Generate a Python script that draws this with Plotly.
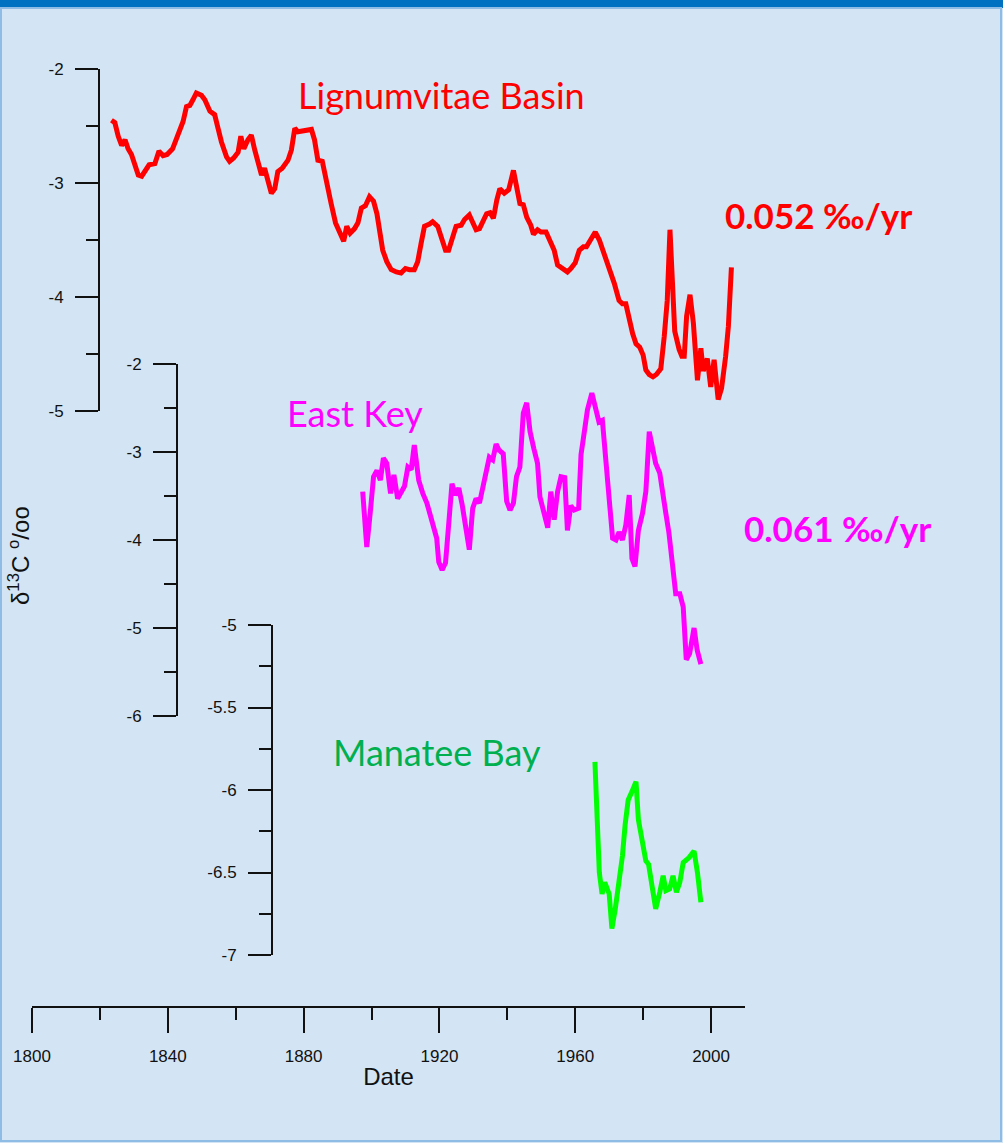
import plotly.graph_objects as go

# ---- data -------------------------------------------------------------
lb_year = [1823.4, 1824.4, 1825.4, 1826.4, 1827.4, 1828.3, 1829.3, 1830.3, 1831.3, 1832.3,
           1833.2, 1834.5, 1836.2, 1837.4, 1838.6, 1839.8, 1841.4, 1843.0, 1844.5, 1845.5,
           1846.5, 1847.4, 1848.4, 1849.9, 1850.9, 1852.4, 1853.8, 1854.8, 1855.8, 1857.3,
           1858.2, 1859.4, 1860.7, 1861.5, 1862.4, 1863.6, 1864.6, 1865.6, 1866.6, 1867.6,
           1868.5, 1869.5, 1870.5, 1871.5, 1872.4, 1873.7, 1875.4, 1876.4, 1877.4, 1878.3,
           1879.8, 1881.3, 1882.3, 1883.2, 1884.2, 1885.5, 1886.7, 1888.1, 1889.4, 1890.8,
           1891.8, 1892.7, 1893.7, 1895.0, 1896.0, 1897.0, 1898.2, 1899.4, 1900.6, 1901.6,
           1902.6, 1903.3, 1904.5, 1905.8, 1907.3, 1908.7, 1910.0, 1911.2, 1912.6, 1913.6,
           1914.6, 1915.6, 1917.1, 1918.0, 1919.5, 1920.5, 1921.8, 1922.7, 1923.9, 1924.9,
           1926.4, 1927.4, 1928.8, 1929.8, 1930.8, 1931.8, 1932.7, 1933.9, 1934.9, 1935.9,
           1936.9, 1937.8, 1939.1, 1940.4, 1941.8, 1943.0, 1943.7, 1944.7, 1945.7, 1946.9,
           1947.7, 1948.9, 1949.9, 1951.4, 1952.4, 1953.8, 1954.8, 1956.3, 1957.7, 1958.7,
           1960.0, 1961.2, 1962.4, 1963.3, 1964.6, 1965.9, 1967.1, 1968.5, 1970.0, 1971.5,
           1972.9, 1973.9, 1974.9, 1975.9, 1976.9, 1977.9, 1979.0, 1980.0, 1980.8, 1981.8,
           1982.9, 1983.9, 1985.2, 1986.2, 1987.1, 1987.9, 1988.6, 1989.3, 1990.6, 1991.4,
           1992.1, 1992.8, 1993.8, 1994.8, 1996.0, 1997.0, 1997.7, 1998.9, 1999.9, 2000.9,
           2002.1, 2003.1, 2004.3, 2005.1, 2006.0]
lb_d13c = [-2.45, -2.47, -2.59, -2.67, -2.62, -2.70, -2.75, -2.83, -2.93, -2.94,
           -2.90, -2.84, -2.83, -2.72, -2.76, -2.75, -2.70, -2.59, -2.46, -2.33,
           -2.32, -2.27, -2.21, -2.23, -2.27, -2.37, -2.40, -2.52, -2.64, -2.77,
           -2.81, -2.78, -2.73, -2.59, -2.70, -2.62, -2.58, -2.71, -2.81, -2.93,
           -2.87, -2.97, -3.09, -3.05, -2.90, -2.87, -2.80, -2.71, -2.52, -2.55,
           -2.54, -2.54, -2.53, -2.62, -2.80, -2.81, -3.00, -3.18, -3.35, -3.44,
           -3.51, -3.38, -3.44, -3.40, -3.35, -3.22, -3.20, -3.12, -3.16, -3.27,
           -3.44, -3.59, -3.69, -3.76, -3.78, -3.79, -3.75, -3.76, -3.76, -3.69,
           -3.53, -3.38, -3.36, -3.34, -3.38, -3.47, -3.59, -3.59, -3.49, -3.38,
           -3.37, -3.32, -3.28, -3.34, -3.41, -3.40, -3.34, -3.27, -3.26, -3.31,
           -3.15, -3.05, -3.09, -3.06, -2.89, -3.06, -3.18, -3.19, -3.30, -3.37,
           -3.45, -3.41, -3.43, -3.43, -3.49, -3.59, -3.72, -3.75, -3.78, -3.75,
           -3.70, -3.59, -3.56, -3.56, -3.49, -3.43, -3.50, -3.62, -3.73, -3.88,
           -4.03, -4.06, -4.06, -4.20, -4.32, -4.41, -4.44, -4.51, -4.64, -4.68,
           -4.70, -4.68, -4.63, -4.35, -4.03, -3.41, -3.94, -4.30, -4.46, -4.52,
           -4.52, -4.17, -3.98, -4.23, -4.73, -4.45, -4.65, -4.54, -4.79, -4.55,
           -4.90, -4.80, -4.52, -4.26, -3.74]

ek_year = [1897.4, 1898.6, 1899.6, 1900.6, 1901.6, 1902.6, 1903.5, 1904.5, 1905.6, 1906.6,
           1907.7, 1908.7, 1909.7, 1910.7, 1911.7, 1912.6, 1913.3, 1913.9, 1915.1, 1916.3,
           1917.4, 1918.5, 1919.2, 1919.8, 1920.8, 1921.8, 1922.7, 1923.7, 1924.7, 1925.7,
           1926.7, 1927.8, 1928.8, 1929.8, 1930.8, 1931.8, 1932.7, 1933.7, 1934.7, 1935.7,
           1936.7, 1937.6, 1938.8, 1939.8, 1940.8, 1941.8, 1942.7, 1943.7, 1944.7, 1945.7,
           1946.7, 1947.8, 1948.9, 1949.6, 1950.9, 1951.9, 1952.8, 1953.8, 1954.8, 1955.8,
           1956.9, 1957.7, 1958.7, 1959.7, 1961.0, 1961.7, 1962.6, 1963.6, 1964.9, 1966.0,
           1967.0, 1968.0, 1969.0, 1970.0, 1971.0, 1972.0, 1972.9, 1973.9, 1974.9, 1975.9,
           1976.7, 1977.6, 1978.6, 1979.8, 1980.8, 1981.8, 1982.7, 1983.7, 1984.9, 1985.7,
           1986.7, 1987.6, 1988.6, 1989.6, 1990.8, 1991.8, 1992.7, 1993.7, 1995.0, 1995.9,
           1997.0]
ek_d13c = [-3.45, -4.08, -3.70, -3.28, -3.21, -3.32, -3.07, -3.13, -3.47, -3.26,
           -3.53, -3.45, -3.39, -3.17, -3.20, -2.92, -3.09, -3.32, -3.47, -3.58,
           -3.73, -3.91, -3.98, -4.25, -4.34, -4.26, -3.81, -3.36, -3.49, -3.41,
           -3.60, -3.87, -4.11, -3.64, -3.53, -3.58, -3.43, -3.22, -3.06, -3.09,
           -2.91, -2.98, -3.02, -3.56, -3.66, -3.58, -3.28, -3.17, -2.56, -2.44,
           -2.77, -2.96, -3.13, -3.51, -3.74, -3.86, -3.45, -3.77, -3.45, -3.28,
           -3.29, -3.89, -3.61, -3.66, -3.64, -3.03, -2.79, -2.52, -2.33, -2.49,
           -2.66, -2.64, -3.13, -3.62, -3.98, -4.00, -3.91, -4.00, -3.83, -3.49,
           -4.21, -4.30, -3.89, -3.70, -3.45, -2.77, -2.94, -3.13, -3.24, -3.49,
           -3.70, -3.92, -4.26, -4.61, -4.61, -4.76, -5.36, -5.29, -5.00, -5.25,
           -5.41]

mb_year = [1965.8, 1966.6, 1967.1, 1967.9, 1968.7, 1970.0, 1970.8, 1971.8, 1972.7, 1973.9,
           1974.7, 1975.6, 1976.7, 1977.9, 1978.6, 1979.8, 1980.8, 1981.6, 1982.6, 1983.7,
           1984.9, 1985.9, 1986.7, 1987.8, 1988.8, 1989.8, 1990.8, 1991.8, 1993.5, 1995.0,
           1996.0, 1997.0]
mb_d13c = [-5.83, -6.30, -6.50, -6.63, -6.56, -6.63, -6.84, -6.72, -6.59, -6.40,
           -6.21, -6.06, -6.01, -5.95, -6.18, -6.32, -6.43, -6.45, -6.59, -6.72,
           -6.62, -6.52, -6.61, -6.60, -6.52, -6.62, -6.56, -6.44, -6.41, -6.37,
           -6.50, -6.68]

site_names = ["Lignumvitae Basin", "East Key", "Manatee Bay"]
trend_labels = ["0.052 \u2030/yr", "0.061 \u2030/yr"]

# tick values and the labels printed at them (plain hyphen minus signs)
x_ticks = [1800, 1840, 1880, 1920, 1960, 2000]
lb_ticks = [-2, -3, -4, -5]
lb_tick_text = ["-2", "-3", "-4", "-5"]
ek_ticks = [-2, -3, -4, -5, -6]
ek_tick_text = ["-2", "-3", "-4", "-5", "-6"]
mb_ticks = [-5, -5.5, -6, -6.5, -7]
mb_tick_text = ["-5", "-5.5", "-6", "-6.5", "-7"]

# ---- page geometry (pixels) -------------------------------------------
W, H = 1003, 1143
L, R, T, B = 32, 745, 69, 1007          # plot area edges


def fx(px):
    return (px - L) / (R - L)


def fy(py):
    return (B - py) / (B - T)


INK = "#111111"
AXIS_FONT = dict(family="Liberation Sans, Arial, sans-serif", size=17, color=INK)
LABEL_FONT = "Lato, Calibri, sans-serif"
RED, MAGENTA, GREEN, GREEN_TXT = "#ff0000", "#ff00ff", "#00ff00", "#00b050"
LINE_W = 5

fig = go.Figure()
fig.add_trace(go.Scatter(x=lb_year, y=lb_d13c, mode="lines", yaxis="y",
                         line=dict(color=RED, width=LINE_W), name=site_names[0]))
fig.add_trace(go.Scatter(x=ek_year, y=ek_d13c, mode="lines", yaxis="y2",
                         line=dict(color=MAGENTA, width=LINE_W), name=site_names[1]))
fig.add_trace(go.Scatter(x=mb_year, y=mb_d13c, mode="lines", yaxis="y3",
                         line=dict(color=GREEN, width=LINE_W), name=site_names[2]))


def y_axis(domain_px, rng, vals, text, minor_step, pos_px):
    return dict(
        domain=[fy(domain_px[1]), fy(domain_px[0])], range=rng,
        anchor="free", position=fx(pos_px),
        showline=True, linecolor=INK, linewidth=2,
        tickmode="array", tickvals=vals, ticktext=text,
        ticks="outside", ticklen=23, tickwidth=2, tickcolor=INK,
        minor=dict(ticks="outside", ticklen=12, tickwidth=2, tickcolor=INK,
                   tickmode="linear", tick0=rng[0], dtick=minor_step, showgrid=False),
        showgrid=False, zeroline=False, tickfont=AXIS_FONT,
        ticklabelstandoff=8,
    )


fig.update_layout(
    width=W, height=H, autosize=False,
    margin=dict(l=L, r=W - R, t=T, b=H - B, pad=0),
    paper_bgcolor="#d3e5f4", plot_bgcolor="rgba(0,0,0,0)",
    showlegend=False,
    xaxis=dict(
        domain=[0, 1], range=[1800, 2010], anchor="free", position=0,
        showline=True, linecolor=INK, linewidth=2,
        tickmode="array", tickvals=x_ticks,
        ticks="outside", ticklen=25, tickwidth=2, tickcolor=INK,
        minor=dict(ticks="outside", ticklen=12, tickwidth=2, tickcolor=INK,
                   tickmode="linear", tick0=1800, dtick=20, showgrid=False),
        showgrid=False, zeroline=False, tickfont=AXIS_FONT,
        ticklabelstandoff=9,
        title=dict(text="Date", font=dict(family=AXIS_FONT["family"], size=24, color=INK),
                   standoff=2),
    ),
    yaxis=y_axis((69, 411), [-5, -2], lb_ticks, lb_tick_text, 0.5, 99),
    yaxis2=y_axis((364, 716), [-6, -2], ek_ticks, ek_tick_text, 0.5, 177),
    yaxis3=y_axis((625, 955), [-7, -5], mb_ticks, mb_tick_text, 0.25, 272),
)

# frame: blue band along the top and a thin light edge around the page
fig.add_shape(type="rect", xref="paper", yref="paper",
              x0=fx(0), x1=fx(W), y0=fy(8), y1=fy(0),
              fillcolor="#0070c0", line=dict(width=0), layer="below")
fig.add_shape(type="rect", xref="paper", yref="paper",
              x0=fx(1), x1=fx(W - 2), y0=fy(H - 2), y1=fy(8),
              fillcolor="rgba(0,0,0,0)", line=dict(color="#8fbce4", width=2), layer="below")


def label(text, cx, cy, color, size, bold=False):
    fig.add_annotation(
        text=f"<b>{text}</b>" if bold else text,
        xref="paper", yref="paper", x=fx(cx), y=fy(cy),
        xanchor="center", yanchor="middle", showarrow=False,
        font=dict(family=LABEL_FONT, size=size, color=color),
    )


label(site_names[0], 441, 95, RED, 36)
label(site_names[1], 355, 413, MAGENTA, 36)
label(site_names[2], 437, 752, GREEN_TXT, 36)
label(trend_labels[0], 818, 215, RED, 35, bold=True)
label(trend_labels[1], 838, 528, MAGENTA, 35, bold=True)

# shared y-axis title
fig.add_annotation(
    text="\u03b4<sup>13</sup>C <sup>o</sup>/oo",
    xref="paper", yref="paper", x=fx(19), y=fy(556),
    xanchor="center", yanchor="middle", textangle=-90, showarrow=False,
    font=dict(family=AXIS_FONT["family"], size=24, color=INK),
)

fig.write_html("out.html")
